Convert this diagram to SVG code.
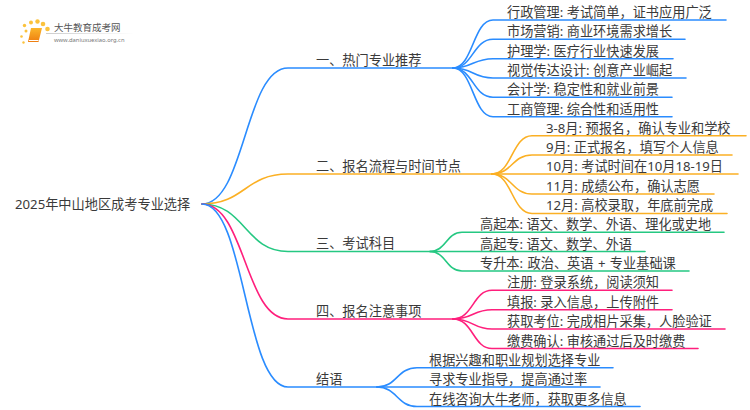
<svg xmlns="http://www.w3.org/2000/svg" width="750" height="410" viewBox="0 0 750 410">
<style>
text{font-family:"Noto Sans","Noto Sans CJK SC",sans-serif;font-size:13.200px;fill:#3a3a3a}
.c{fill:none;stroke-width:1.600;stroke-linecap:round}
.b{stroke:#2a8cff}.o{stroke:#fbb024}.g{stroke:#25c882}.p{stroke:#ff1f7c}
</style>
<defs>
<linearGradient id="bk" x1="0" y1="0" x2="0" y2="1"><stop offset="0" stop-color="#fbb62a"/><stop offset="1" stop-color="#ee7d10"/></linearGradient>
<linearGradient id="rule" x1="0" y1="0" x2="1" y2="0"><stop offset="0" stop-color="#ccc"/><stop offset="1" stop-color="#fff"/></linearGradient>
</defs>
<g id="connectors">
<path class="c b" d="M202 204C245 204 245 68 288 68H453"/>
<path class="c o" d="M202 204C245 204 245 174 288 174H492"/>
<path class="c g" d="M202 204C245 204 245 251.500 288 251.500H430"/>
<path class="c p" d="M202 204C245 204 245 319 288 319H453"/>
<path class="c b" d="M202 204C245 204 245 387 288 387H377"/>
<path class="c b" d="M453 68C473 68 473 20 493 20H726"/>
<path class="c b" d="M453 68C473 68 473 39.300 493 39.300H685"/>
<path class="c b" d="M453 68C473 68 473 58.700 493 58.700H673"/>
<path class="c b" d="M453 68C473 68 473 78 493 78H686"/>
<path class="c b" d="M453 68C473 68 473 97.300 493 97.300H672"/>
<path class="c b" d="M453 68C473 68 473 116.700 493 116.700H672"/>
<path class="c o" d="M492 174C512 174 512 135.700 532 135.700H746"/>
<path class="c o" d="M492 174C512 174 512 155 532 155H732"/>
<path class="c o" d="M492 174H738"/>
<path class="c o" d="M492 174C512 174 512 194 532 194H714"/>
<path class="c o" d="M492 174C512 174 512 213.500 532 213.500H727"/>
<path class="c g" d="M430 251.500C446 251.500 446 232.300 462 232.300H724"/>
<path class="c g" d="M430 251.500H645"/>
<path class="c g" d="M430 251.500C446 251.500 446 271 462 271H689"/>
<path class="c p" d="M453 319C473 319 473 290.300 492 290.300H672"/>
<path class="c p" d="M453 319C473 319 473 309.700 492 309.700H672"/>
<path class="c p" d="M453 319C473 319 473 329 492 329H725"/>
<path class="c p" d="M453 319C473 319 473 348.500 492 348.500H698"/>
<path class="c b" d="M377 387C397 387 397 367.700 417 367.700H613"/>
<path class="c b" d="M377 387H600"/>
<path class="c b" d="M377 387C397 387 397 406.500 417 406.500H640"/>
</g>
<g id="logo">
<g fill="#fbc23c">
<circle cx="24.500" cy="25.500" r="1.700"/><circle cx="26" cy="31" r="1.500"/><circle cx="21.500" cy="36.500" r="1.300"/><circle cx="23.500" cy="42.500" r="1.200"/>
<circle cx="31" cy="22.500" r="2"/><circle cx="37.500" cy="21.500" r="2.200"/><circle cx="43" cy="24" r="2.300"/><circle cx="47.500" cy="29" r="2.300"/>
</g>
<path d="M31 28H42L38.500 42H28Z" fill="url(#bk)"/>
<path d="M29 40.500H38.500" stroke="#fff" stroke-width="1"/>
<text x="54" y="31" style="font-size:9.500px;fill:#555">大牛教育成考网</text>
<rect x="46" y="33" width="88" height="1" fill="url(#rule)"/>
<text x="54" y="41.500" style="font-size:5.800px;fill:#777">www.daniuxuexiao.org.cn</text>
</g>
<g id="root"><text x="15" y="209">2025年中山地区成考专业选择</text></g>
<g id="n1"><text x="316" y="64.500">一、热门专业推荐</text></g>
<g id="n1-1"><text x="507" y="16.700">行政管理: 考试简单，证书应用广泛</text></g>
<g id="n1-2"><text x="507" y="36.200">市场营销: 商业环境需求增长</text></g>
<g id="n1-3"><text x="507" y="55.700">护理学: 医疗行业快速发展</text></g>
<g id="n1-4"><text x="507" y="74.700">视觉传达设计: 创意产业崛起</text></g>
<g id="n1-5"><text x="507" y="94.200">会计学: 稳定性和就业前景</text></g>
<g id="n1-6"><text x="507" y="113.700">工商管理: 综合性和适用性</text></g>
<g id="n2"><text x="316" y="170.500">二、报名流程与时间节点</text></g>
<g id="n2-1"><text x="546" y="132.700">3-8月: 预报名，确认专业和学校</text></g>
<g id="n2-2"><text x="546" y="151.700">9月: 正式报名，填写个人信息</text></g>
<g id="n2-3"><text x="546" y="171.200">10月: 考试时间在10月18-19日</text></g>
<g id="n2-4"><text x="546" y="190.700">11月: 成绩公布，确认志愿</text></g>
<g id="n2-5"><text x="546" y="210.200">12月: 高校录取，年底前完成</text></g>
<g id="n3"><text x="316" y="248">三、考试科目</text></g>
<g id="n3-1"><text x="480" y="229.200">高起本: 语文、数学、外语、理化或史地</text></g>
<g id="n3-2"><text x="480" y="248.700">高起专: 语文、数学、外语</text></g>
<g id="n3-3"><text x="480" y="268.200" word-spacing="1">专升本: 政治、英语 + 专业基础课</text></g>
<g id="n4"><text x="316" y="316">四、报名注意事项</text></g>
<g id="n4-1"><text x="507" y="287.200">注册: 登录系统，阅读须知</text></g>
<g id="n4-2"><text x="507" y="306.700">填报: 录入信息，上传附件</text></g>
<g id="n4-3"><text x="507" y="326.200">获取考位: 完成相片采集，人脸验证</text></g>
<g id="n4-4"><text x="507" y="345.700">缴费确认: 审核通过后及时缴费</text></g>
<g id="n5"><text x="316" y="383.500">结语</text></g>
<g id="n5-1"><text x="429" y="364.700">根据兴趣和职业规划选择专业</text></g>
<g id="n5-2"><text x="429" y="384.200">寻求专业指导，提高通过率</text></g>
<g id="n5-3"><text x="429" y="403.700">在线咨询大牛老师，获取更多信息</text></g>
</svg>
